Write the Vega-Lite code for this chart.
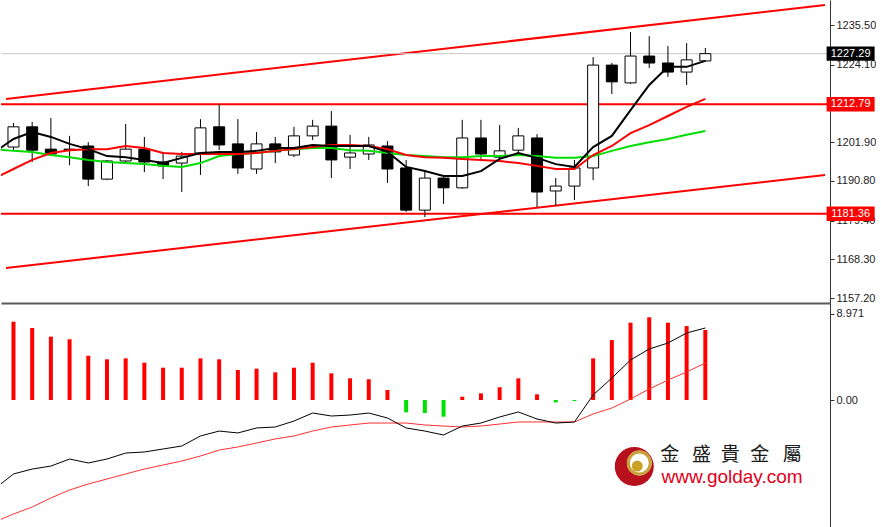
{
  "$schema": "https://vega.github.io/schema/vega-lite/v6.json",
  "padding": 0,
  "autosize": {"type": "pad"},
  "background": "white",
  "spacing": 0,
  "bounds": "flush",
  "config": {
    "view": {"stroke": null},
    "axis": {"labelFont": "Liberation Sans", "labelFontSize": 11, "labelColor": "#222222", "domainColor": "#333333", "tickColor": "#333333", "tickSize": 4, "grid": false, "labelPadding": 2}
  },
  "datasets": {
    "main": [
      {"i":0,"m5":1199.1,"m10":1191.6,"m20":1199.9,"dif":-9.2,"dea":-12.65},
      {"i":1,"o":1200.5,"h":1207.4,"l":1199.6,"c":1206.3,"m5":1202.8,"m10":1194.2,"m20":1199.4,"hist":8.12,"dif":-7.67,"dea":-11.82},
      {"i":2,"o":1206.3,"h":1207.7,"l":1196.2,"c":1199.6,"m5":1204.8,"m10":1196.8,"m20":1199.1,"hist":7.47,"dif":-7.16,"dea":-11.10},
      {"i":3,"o":1199.9,"h":1208.8,"l":1197.9,"c":1198.5,"m5":1203.4,"m10":1198.8,"m20":1198.2,"hist":6.57,"dif":-6.85,"dea":-10.16},
      {"i":4,"o":1199.9,"h":1203.7,"l":1195.3,"c":1199.6,"m5":1201.4,"m10":1199.6,"m20":1197.6,"hist":6.30,"dif":-6.12,"dea":-9.33},
      {"i":5,"o":1200.8,"h":1201.9,"l":1189.3,"c":1191.3,"m5":1199.9,"m10":1199.9,"m20":1196.8,"hist":4.59,"dif":-6.53,"dea":-8.71},
      {"i":6,"o":1191.3,"h":1196.8,"l":1191.0,"c":1196.5,"m5":1197.9,"m10":1199.9,"m20":1196.2,"hist":4.22,"dif":-6.12,"dea":-8.19},
      {"i":7,"o":1196.5,"h":1207.1,"l":1195.9,"c":1199.9,"m5":1197.6,"m10":1200.8,"m20":1195.9,"hist":4.32,"dif":-5.50,"dea":-7.67},
      {"i":8,"o":1199.9,"h":1203.4,"l":1193.3,"c":1196.2,"m5":1196.8,"m10":1200.2,"m20":1195.6,"hist":3.87,"dif":-5.39,"dea":-7.16},
      {"i":9,"o":1196.2,"h":1199.1,"l":1191.3,"c":1195.1,"m5":1195.9,"m10":1198.8,"m20":1195.1,"hist":3.35,"dif":-5.08,"dea":-6.74},
      {"i":10,"o":1195.9,"h":1199.1,"l":1187.6,"c":1197.9,"m5":1197.4,"m10":1198.5,"m20":1194.8,"hist":3.35,"dif":-4.77,"dea":-6.33},
      {"i":11,"o":1198.8,"h":1208.5,"l":1192.5,"c":1206.0,"m5":1198.8,"m10":1198.5,"m20":1195.9,"hist":4.32,"dif":-3.73,"dea":-5.81},
      {"i":12,"o":1206.3,"h":1212.8,"l":1199.6,"c":1201.1,"m5":1199.1,"m10":1198.5,"m20":1197.9,"hist":4.22,"dif":-3.22,"dea":-5.19},
      {"i":13,"o":1201.4,"h":1208.5,"l":1192.8,"c":1194.5,"m5":1199.1,"m10":1198.5,"m20":1198.5,"hist":3.11,"dif":-3.42,"dea":-4.87},
      {"i":14,"o":1194.2,"h":1204.8,"l":1192.8,"c":1201.4,"m5":1199.4,"m10":1198.8,"m20":1198.8,"hist":3.25,"dif":-2.90,"dea":-4.46},
      {"i":15,"o":1201.4,"h":1203.4,"l":1195.9,"c":1199.1,"m5":1200.2,"m10":1199.4,"m20":1199.4,"hist":2.87,"dif":-2.80,"dea":-4.04},
      {"i":16,"o":1198.2,"h":1206.3,"l":1197.6,"c":1203.7,"m5":1200.2,"m10":1199.9,"m20":1199.9,"hist":3.35,"dif":-2.18,"dea":-3.73},
      {"i":17,"o":1203.7,"h":1208.3,"l":1202.5,"c":1206.5,"m5":1201.1,"m10":1200.5,"m20":1200.2,"hist":3.87,"dif":-1.35,"dea":-3.22},
      {"i":18,"o":1206.5,"h":1210.8,"l":1191.6,"c":1196.8,"m5":1200.8,"m10":1201.1,"m20":1200.2,"hist":2.77,"dif":-1.66,"dea":-2.80},
      {"i":19,"o":1197.6,"h":1204.0,"l":1194.2,"c":1198.8,"m5":1200.8,"m10":1201.1,"m20":1199.6,"hist":2.25,"dif":-1.56,"dea":-2.59},
      {"i":20,"o":1198.5,"h":1203.4,"l":1196.8,"c":1201.1,"m5":1200.8,"m10":1200.8,"m20":1199.4,"hist":2.15,"dif":-1.35,"dea":-2.39},
      {"i":21,"o":1200.8,"h":1202.2,"l":1190.2,"c":1194.2,"m5":1199.1,"m10":1199.9,"m20":1198.8,"hist":1.04,"dif":-1.87,"dea":-2.39},
      {"i":22,"o":1194.5,"h":1196.8,"l":1181.9,"c":1182.4,"m5":1194.8,"m10":1198.2,"m20":1198.2,"hist":-1.28,"dif":-2.90,"dea":-2.39},
      {"i":23,"o":1182.4,"h":1193.6,"l":1180.4,"c":1191.6,"m5":1193.6,"m10":1197.6,"m20":1197.9,"hist":-1.35,"dif":-3.22,"dea":-2.59},
      {"i":24,"o":1191.6,"h":1192.2,"l":1184.2,"c":1188.8,"m5":1192.2,"m10":1197.4,"m20":1197.6,"hist":-1.73,"dif":-3.63,"dea":-2.70},
      {"i":25,"o":1188.8,"h":1208.3,"l":1188.5,"c":1203.1,"m5":1192.2,"m10":1197.1,"m20":1197.6,"hist":0.34,"dif":-2.70,"dea":-2.80},
      {"i":26,"o":1203.1,"h":1208.3,"l":1197.1,"c":1198.5,"m5":1193.6,"m10":1196.8,"m20":1197.9,"hist":0.69,"dif":-2.39,"dea":-2.70},
      {"i":27,"o":1197.6,"h":1206.8,"l":1196.2,"c":1199.4,"m5":1197.1,"m10":1196.5,"m20":1197.9,"hist":1.32,"dif":-1.76,"dea":-2.49},
      {"i":28,"o":1199.6,"h":1206.0,"l":1198.2,"c":1203.7,"m5":1198.8,"m10":1195.9,"m20":1198.2,"hist":2.25,"dif":-1.24,"dea":-2.28},
      {"i":29,"o":1203.1,"h":1204.2,"l":1183.3,"c":1187.6,"m5":1197.4,"m10":1195.1,"m20":1197.9,"hist":0.59,"dif":-1.97,"dea":-2.28},
      {"i":30,"o":1187.9,"h":1191.6,"l":1183.6,"c":1189.3,"m5":1195.6,"m10":1194.2,"m20":1197.4,"hist":-0.25,"dif":-2.39,"dea":-2.28},
      {"i":31,"o":1189.3,"h":1196.8,"l":1185.3,"c":1194.5,"m5":1194.8,"m10":1194.2,"m20":1197.4,"hist":-0.1,"dif":-2.28,"dea":-2.28},
      {"i":32,"o":1194.5,"h":1226.3,"l":1191.0,"c":1224.0,"m5":1200.5,"m10":1198.2,"m20":1197.9,"hist":4.32,"dif":0.52,"dea":-1.45},
      {"i":33,"o":1224.0,"h":1224.6,"l":1215.7,"c":1219.2,"m5":1203.7,"m10":1200.8,"m20":1199.4,"hist":6.22,"dif":2.28,"dea":-0.83},
      {"i":34,"o":1218.9,"h":1233.5,"l":1218.6,"c":1226.6,"m5":1211.1,"m10":1204.5,"m20":1200.8,"hist":8.02,"dif":4.15,"dea":0.10},
      {"i":35,"o":1226.6,"h":1232.3,"l":1223.2,"c":1224.6,"m5":1218.3,"m10":1206.8,"m20":1201.9,"hist":8.58,"dif":5.29,"dea":1.14},
      {"i":36,"o":1224.6,"h":1229.5,"l":1220.6,"c":1222.0,"m5":1223.5,"m10":1209.4,"m20":1202.8,"hist":8.02,"dif":5.91,"dea":2.07},
      {"i":37,"o":1222.0,"h":1230.3,"l":1218.3,"c":1225.5,"m5":1223.5,"m10":1212.0,"m20":1204.0,"hist":7.67,"dif":6.95,"dea":2.90},
      {"i":38,"o":1225.2,"h":1228.9,"l":1224.9,"c":1227.29,"m5":1225.2,"m10":1214.3,"m20":1205.1,"hist":7.26,"dif":7.47,"dea":3.84}
    ],
    "levels": [
      {"kind":"current","p":1227.29,"t":"1227.29"},
      {"kind":"level","p":1212.79,"t":"1212.79"},
      {"kind":"level","p":1181.36,"t":"1181.36"}
    ],
    "channels": [
      {"line":"upper","i":0.6,"p":1214.28},
      {"line":"upper","i":44.4,"p":1241.24},
      {"line":"lower","i":0.6,"p":1165.81},
      {"line":"lower","i":44.4,"p":1192.48}
    ],
    "logo": [
      {"part":"disk","i":34.20,"v":-6.90},
      {"part":"inner","i":34.47,"v":-6.53},
      {"part":"ball","i":34.36,"v":-6.85}
    ],
    "chars": [
      {"ch":"金","i":36.10},
      {"ch":"盛","i":37.79},
      {"ch":"貴","i":39.33},
      {"ch":"金","i":40.91},
      {"ch":"屬","i":42.65}
    ]
  },
  "vconcat": [
    {
      "width": 829,
      "height": 303,
      "layer": [
        {
          "encoding": {
            "x": {"field": "i", "type": "quantitative", "scale": {"domain": [0.6, 44.4], "nice": false, "zero": false},
              "axis": {"orient": "bottom", "title": null, "labels": false, "ticks": false, "domain": true, "domainColor": "#5a5a5a", "domainWidth": 2}},
            "y": {"field": "p", "type": "quantitative", "scale": {"domain": [1155.77, 1242.67], "nice": false, "zero": false},
              "axis": {"orient": "right", "title": null, "values": [1235.5, 1224.1, 1201.9, 1190.8, 1179.4, 1168.3, 1157.2], "format": ".2f"}}
          },
          "layer": [
            {
              "data": {"name": "channels"},
              "mark": {"type": "line", "color": "#ff0000", "strokeWidth": 2, "clip": true},
              "encoding": {"detail": {"field": "line"}}
            },
            {
              "data": {"name": "levels"},
              "transform": [{"filter": "datum.kind == 'current'"}],
              "mark": {"type": "rule", "color": "#c8c8c8", "strokeWidth": 1},
              "encoding": {"x": null}
            },
            {
              "data": {"name": "levels"},
              "transform": [{"filter": "datum.kind == 'level'"}],
              "mark": {"type": "rule", "color": "#ff0000", "strokeWidth": 2},
              "encoding": {"x": null}
            },
            {
              "data": {"name": "main"},
              "transform": [{"filter": "isValid(datum.o)"}],
              "mark": {"type": "rule", "color": "#000000", "strokeWidth": 1},
              "encoding": {
                "y": {"field": "l", "type": "quantitative"},
                "y2": {"field": "h"}
              }
            },
            {
              "data": {"name": "main"},
              "transform": [{"filter": "isValid(datum.o)"}],
              "mark": {"type": "bar", "width": 11, "stroke": "#000000", "strokeWidth": 1},
              "encoding": {
                "y": {"field": "o", "type": "quantitative"},
                "y2": {"field": "c"},
                "fill": {"condition": {"test": "datum.c >= datum.o", "value": "#ffffff"}, "value": "#000000"}
              }
            },
            {
              "data": {"name": "main"},
              "mark": {"type": "line", "color": "#00dd00", "strokeWidth": 2, "clip": true},
              "encoding": {"y": {"field": "m20", "type": "quantitative"}}
            },
            {
              "data": {"name": "main"},
              "mark": {"type": "line", "color": "#ff0000", "strokeWidth": 2, "clip": true},
              "encoding": {"y": {"field": "m10", "type": "quantitative"}}
            },
            {
              "data": {"name": "main"},
              "mark": {"type": "line", "color": "#000000", "strokeWidth": 2, "clip": true},
              "encoding": {"y": {"field": "m5", "type": "quantitative"}}
            }
          ]
        },
        {
          "data": {"name": "levels"},
          "mark": {"type": "point", "shape": "M-1,-0.3H1V0.3H-1Z", "size": 2304, "filled": true, "opacity": 1, "strokeWidth": 0},
          "encoding": {
            "x": {"datum": 45.77, "type": "quantitative", "scale": {"domain": [0.6, 44.4], "nice": false, "zero": false},
              "axis": {"orient": "bottom", "title": null, "labels": false, "ticks": false, "domain": true, "domainColor": "#5a5a5a", "domainWidth": 2}},
            "y": {"field": "p", "type": "quantitative", "scale": {"domain": [1155.77, 1242.67], "nice": false, "zero": false},
              "axis": {"orient": "right", "title": null, "values": [1235.5, 1224.1, 1201.9, 1190.8, 1179.4, 1168.3, 1157.2], "format": ".2f"}},
            "color": {"condition": {"test": "datum.kind == 'current'", "value": "#000000"}, "value": "#ff0000"}
          }
        },
        {
          "data": {"name": "levels"},
          "mark": {"type": "text", "font": "Liberation Sans", "fontSize": 11, "color": "#ffffff", "align": "center", "baseline": "middle"},
          "encoding": {
            "x": {"datum": 45.77, "type": "quantitative", "scale": {"domain": [0.6, 44.4], "nice": false, "zero": false},
              "axis": {"orient": "bottom", "title": null, "labels": false, "ticks": false, "domain": true, "domainColor": "#5a5a5a", "domainWidth": 2}},
            "y": {"field": "p", "type": "quantitative", "scale": {"domain": [1155.77, 1242.67], "nice": false, "zero": false},
              "axis": {"orient": "right", "title": null, "values": [1235.5, 1224.1, 1201.9, 1190.8, 1179.4, 1168.3, 1157.2], "format": ".2f"}},
            "text": {"field": "t"}
          }
        }
      ]
    },
    {
      "width": 829,
      "height": 224,
      "layer": [
        {
          "encoding": {
            "x": {"field": "i", "type": "quantitative", "scale": {"domain": [0.6, 44.4], "nice": false, "zero": false}, "axis": null},
            "y": {"field": "hist", "type": "quantitative", "scale": {"domain": [-13.17, 10.06], "nice": false, "zero": false},
              "axis": {"orient": "right", "title": null, "values": [8.971, 0], "labelExpr": "datum.value == 0 ? '0.00' : format(datum.value, '.3f')"}}
          },
          "layer": [
            {
              "data": {"name": "main"},
              "transform": [{"filter": "isValid(datum.hist)"}],
              "mark": {"type": "bar", "width": 4},
              "encoding": {
                "y2": {"datum": 0},
                "color": {"condition": {"test": "datum.hist >= 0", "value": "#ff0000"}, "value": "#00e000"}
              }
            },
            {
              "data": {"name": "main"},
              "mark": {"type": "line", "color": "#ff3030", "strokeWidth": 1, "clip": true},
              "encoding": {"y": {"field": "dea", "type": "quantitative"}}
            },
            {
              "data": {"name": "main"},
              "mark": {"type": "line", "color": "#000000", "strokeWidth": 1, "clip": true},
              "encoding": {"y": {"field": "dif", "type": "quantitative"}}
            },
            {
              "data": {"name": "logo"},
              "transform": [{"filter": "datum.part == 'disk'"}],
              "mark": {"type": "point", "shape": "circle", "size": 1520, "filled": true, "color": "#b8101c", "opacity": 1},
              "encoding": {"y": {"field": "v", "type": "quantitative"}}
            },
            {
              "data": {"name": "logo"},
              "transform": [{"filter": "datum.part == 'inner'"}],
              "mark": {"type": "point", "shape": "circle", "size": 616, "filled": true, "color": "#ffffff", "opacity": 1},
              "encoding": {"y": {"field": "v", "type": "quantitative"}}
            },
            {
              "data": {"name": "logo"},
              "transform": [{"filter": "datum.part == 'inner'"}],
              "mark": {"type": "point", "shape": "circle", "size": 480, "filled": false, "color": "#c9a23a", "strokeWidth": 3, "opacity": 1},
              "encoding": {"y": {"field": "v", "type": "quantitative"}}
            },
            {
              "data": {"name": "logo"},
              "transform": [{"filter": "datum.part == 'ball'"}],
              "mark": {"type": "point", "shape": "circle", "size": 120, "filled": true, "color": "#c9a227", "opacity": 1},
              "encoding": {"y": {"field": "v", "type": "quantitative"}}
            }
          ]
        },
        {
          "data": {"name": "chars"},
          "mark": {"type": "text", "font": "Noto Sans CJK TC", "fontSize": 19, "color": "#1a1a1a", "align": "center", "baseline": "middle"},
          "encoding": {
            "x": {"field": "i", "type": "quantitative", "scale": {"domain": [0.6, 44.4], "nice": false, "zero": false}, "axis": null},
            "y": {"datum": -5.75, "type": "quantitative", "scale": {"domain": [-13.17, 10.06], "nice": false, "zero": false},
              "axis": {"orient": "right", "title": null, "values": [8.971, 0], "labelExpr": "datum.value == 0 ? '0.00' : format(datum.value, '.3f')"}},
            "text": {"field": "ch"}
          }
        },
        {
          "data": {"values": [{"t": "www.golday.com"}]},
          "mark": {"type": "text", "font": "Liberation Sans", "fontSize": 19, "color": "#e0001a", "align": "center", "baseline": "alphabetic"},
          "encoding": {
            "x": {"datum": 39.43, "type": "quantitative", "scale": {"domain": [0.6, 44.4], "nice": false, "zero": false}, "axis": null},
            "y": {"datum": -8.6, "type": "quantitative", "scale": {"domain": [-13.17, 10.06], "nice": false, "zero": false},
              "axis": {"orient": "right", "title": null, "values": [8.971, 0], "labelExpr": "datum.value == 0 ? '0.00' : format(datum.value, '.3f')"}},
            "text": {"field": "t"}
          }
        }
      ]
    }
  ]
}
